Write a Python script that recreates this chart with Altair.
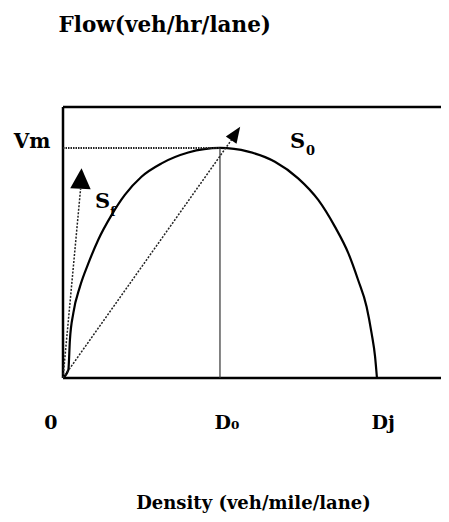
import altair as alt
import pandas as pd

# Flow-density curve (units: D0 = 50, Dj = 100, Vm = 100)
density = [0, 1.7, 2.2, 3.3, 5.4, 8.1, 11.2, 15.5, 19.7, 25.0, 31.4, 39.9, 50.0,
           59.0, 67.5, 74.9, 81.3, 86.6, 90.9, 94.0, 96.7, 98.3, 99.4, 100.0]
flow = [0, 3.5, 16.5, 28.3, 39.7, 49.9, 60.0, 70.9, 79.6, 87.5, 93.3, 98.0, 100.0,
        98.4, 94.0, 86.8, 77.4, 65.8, 54.2, 42.6, 31.0, 19.4, 9.3, 0]

D0 = 50
DJ = 100
VM = 100
X_MAX = 120.4
Y_MAX = 117.8

tick_values = [0, D0, DJ]
tick_labels = ["0", "D₀", "Dj"]

# arrows: shaft end points and arrow-head centres (data units)
sf_end = (5.6, 82.2)
sf_head = (5.73, 86.7)
s0_end = (53.7, 103.6)
s0_head = (55.0, 106.3)

# label letters and their subscripts
main_text = ["S", "S"]
main_x = [10.2, 72.3]
main_y = [73.9, 100.0]
sub_text = ["f", "0"]
sub_x = [15.0, 77.4]
sub_y = [70.4, 97.0]

FONT = "DejaVu Serif"

xs = alt.Scale(domain=[0, X_MAX], nice=False, zero=False)
ys = alt.Scale(domain=[0, Y_MAX], nice=False, zero=False)

label_expr = " : ".join(
    [f"datum.value == {v} ? '{t}'" for v, t in zip(tick_values[:-1], tick_labels[:-1])]
) + f" : '{tick_labels[-1]}'"

X_AXIS = alt.Axis(
    values=tick_values, labelExpr=label_expr, domain=False, ticks=False, grid=False,
    labelFont=FONT, labelFontWeight="bold", labelFontSize=19, labelColor="black",
    labelBaseline="alphabetic", labelPadding=50, labelFlush=False,
    labelAlign={"condition": {"test": "datum.value == 0", "value": "right"}, "value": "left"},
    labelOffset=-6,
    title="Density (veh/mile/lane)", titleFont=FONT, titleFontWeight="bold",
    titleFontSize=18, titleColor="black", titleX=190, titleY=130,
    titleAlign="center", titleBaseline="alphabetic", titleAngle=0)
Y_AXIS = alt.Axis(
    values=[VM], labelExpr="'Vm'", domain=False, ticks=False, grid=False,
    labelFont=FONT, labelFontWeight="bold", labelFontSize=20, labelColor="black",
    labelBaseline="alphabetic", labelPadding=13, labelAlign="right",
    title="Flow(veh/hr/lane)", titleFont=FONT, titleFontWeight="bold",
    titleFontSize=21.5, titleColor="black", titleX=-5, titleY=-76, titleAngle=0,
    titleAlign="left", titleBaseline="alphabetic")


def X():
    return alt.X("x:Q", scale=xs, axis=X_AXIS)


def Y():
    return alt.Y("y:Q", scale=ys, axis=Y_AXIS)


curve_df = pd.DataFrame({"x": density, "y": flow})
curve = alt.Chart(curve_df).mark_line(
    color="black", strokeWidth=2.2, interpolate="monotone"
).encode(x=X(), y=Y())

# frame (top, left, bottom)
frame_df = pd.DataFrame({
    "x": [0, 0, 0], "y": [Y_MAX, 0, 0],
    "x2": [X_MAX, 0, X_MAX], "y2": [Y_MAX, Y_MAX, 0],
})
frame = alt.Chart(frame_df).mark_rule(color="black", strokeWidth=2.5).encode(
    x=X(), y=Y(), x2="x2:Q", y2="y2:Q",
)

vm_df = pd.DataFrame({"x": [0], "y": [VM], "x2": [D0], "y2": [VM]})
vm_line = alt.Chart(vm_df).mark_rule(color="#222", strokeWidth=2, strokeDash=[1.5, 1]).encode(
    x=X(), y=Y(), x2="x2:Q", y2="y2:Q",
)

d0_df = pd.DataFrame({"x": [D0], "y": [VM], "x2": [D0], "y2": [0]})
d0_line = alt.Chart(d0_df).mark_rule(color="#333", strokeWidth=1.2).encode(
    x=X(), y=Y(), x2="x2:Q", y2="y2:Q",
)

shaft_df = pd.DataFrame({"x": [0, 0], "y": [0, 0],
                         "x2": [sf_end[0], s0_end[0]], "y2": [sf_end[1], s0_end[1]]})
shafts = alt.Chart(shaft_df).mark_rule(color="#222", strokeWidth=1.5, strokeDash=[2, 1.5]).encode(
    x=X(), y=Y(), x2="x2:Q", y2="y2:Q",
)

head_sf = alt.Chart(pd.DataFrame({"x": [sf_head[0]], "y": [sf_head[1]]})).mark_point(
    shape="M0,-1L-1,1L1,1Z", filled=True, color="black", opacity=1, size=420, angle=3
).encode(x=X(), y=Y())

head_s0 = alt.Chart(pd.DataFrame({"x": [s0_head[0]], "y": [s0_head[1]]})).mark_point(
    shape="M0,-1L-0.8,1L0.8,1Z", filled=True, color="black", opacity=1, size=260, angle=34
).encode(x=X(), y=Y())

main_lbl = alt.Chart(pd.DataFrame({"x": main_x, "y": main_y, "t": main_text})).mark_text(
    align="left", baseline="alphabetic", font=FONT, fontWeight="bold", fontSize=21, color="black"
).encode(x=X(), y=Y(), text="t:N")

sub_lbl = alt.Chart(pd.DataFrame({"x": sub_x, "y": sub_y, "t": sub_text})).mark_text(
    align="left", baseline="alphabetic", font=FONT, fontWeight="bold", fontSize=13, color="black"
).encode(x=X(), y=Y(), text="t:N")

chart = alt.layer(
    curve, frame, vm_line, d0_line, shafts, head_sf, head_s0, main_lbl, sub_lbl
).properties(
    width=378, height=271,
    autosize=alt.AutoSizeParams(type="none"),
    padding={"left": 55, "top": 99, "right": 0, "bottom": 136},
    background="white",
).configure_view(stroke=None)

chart.save("out.html", embed_options={"renderer": "svg", "actions": False})
